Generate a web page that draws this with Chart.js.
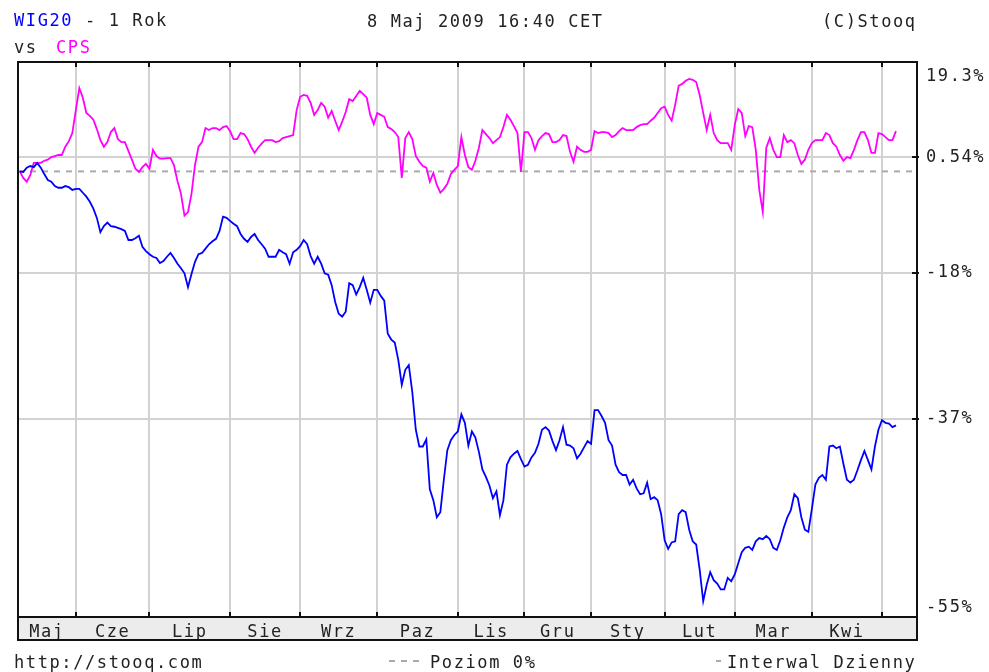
<!DOCTYPE html>
<html>
<head>
<meta charset="utf-8">
<script src="https://cdn.jsdelivr.net/npm/chart.js@4.4.1/dist/chart.umd.min.js"></script>
<style>
  body { margin: 0; background: #fff; }
  #wrap { position: relative; width: 989px; height: 672px; overflow: hidden; }
  #box { position: absolute; left: 0; top: 0; width: 989px; height: 672px; }
  .t {
    position: absolute;
    font: 17px 'DejaVu Sans Mono', monospace;
    line-height: 17px;
    letter-spacing: 1.6px;
    color: #222;
    white-space: pre;
  }
  .dash { position: absolute; height: 2px; background: repeating-linear-gradient(90deg, #aaa 0 6px, transparent 6px 12px); }
</style>
</head>
<body>
<div id="wrap">
  <div id="box"><canvas id="chart"></canvas></div>
  <div class="t" style="left:14px; top:12px"><span style="color:#0000ff">WIG20</span> - 1 Rok</div>
  <div class="t" style="left:14px; top:39px">vs</div>
  <div class="t" style="left:56px; top:39px; color:#ff00ff">CPS</div>
  <div class="t" style="left:367px; top:13px">8 Maj 2009 16:40 CET</div>
  <div class="t" style="left:822px; top:13px">(C)Stooq</div>
  <div class="t" style="left:14px; top:654px">http://stooq.com</div>
  <div class="dash" style="left:389px; top:660px; width:36px"></div>
  <div class="t" style="left:430px; top:654px">Poziom 0%</div>
  <div class="dash" style="left:716px; top:660px; width:5px"></div>
  <div class="t" style="left:727px; top:654px">Interwal Dzienny</div>
</div>
<script>
// ---- data: daily % change since 8 May 2008, one value per trading day ----
const WIG20 = [
  0, -0.1, 0.7, 1.0, 0.8, 1.6, 0.7, -0.5, -1.6, -1.9,
  -2.7, -3.0, -3.0, -2.7, -2.9, -3.4, -3.2, -3.2, -3.9, -4.6,
  -5.5, -6.7, -8.3, -10.7, -9.7, -9.1, -9.7, -9.8, -10.0, -10.2,
  -10.5, -12.0, -12.0, -11.7, -11.3, -13.1, -13.8, -14.3, -14.7, -14.9,
  -15.7, -15.4, -14.7, -14.1, -14.9, -15.8, -16.5, -17.3, -19.4, -17.4,
  -15.5, -14.3, -14.1, -13.4, -12.7, -12.2, -11.8, -10.5, -8.1, -8.3,
  -8.8, -9.3, -9.7, -11.0, -11.8, -12.3, -11.5, -11.0, -12.0, -12.7,
  -13.4, -14.7, -14.7, -14.7, -13.6, -14.0, -14.3, -15.8, -14.0, -13.6,
  -13.0, -12.0, -12.7, -14.6, -15.8, -14.7, -15.8, -17.3, -17.5, -19.1,
  -21.6, -23.3, -23.7, -23.0, -18.8, -19.1, -20.5, -19.4, -18.0, -19.8,
  -21.7, -19.8, -19.8, -20.7, -21.4, -26.1, -26.9, -27.3, -29.6, -32.8,
  -30.9, -30.3, -33.7, -38.2, -40.1, -40.1, -39.3, -44.7, -45.8, -47.5,
  -47.0, -43.7, -40.5, -39.4, -38.8, -38.4, -36.4, -37.4, -40.0, -38.4,
  -39.1, -40.7, -42.6, -43.4, -44.3, -45.6, -44.9, -47.3, -45.8, -42.1,
  -41.3, -40.9, -40.6, -41.5, -42.3, -42.1, -41.3, -40.8, -39.8, -38.2,
  -37.9, -38.3, -39.5, -40.5, -39.4, -37.9, -39.9, -40.0, -40.3, -41.4,
  -40.9, -40.2, -39.5, -39.8, -35.9, -35.9, -36.6, -37.4, -39.4, -40.0,
  -42.1, -42.9, -43.2, -43.2, -44.2, -43.7, -44.6, -45.2, -45.1, -44.0,
  -45.7, -45.5, -45.8, -47.2, -49.7, -50.5, -49.9, -49.8, -47.2, -46.8,
  -47.0, -48.7, -49.8, -50.1, -52.4, -55.1, -53.7, -52.6, -53.3, -53.6,
  -54.1, -54.1, -53.1, -53.4, -52.8, -51.8, -50.8, -50.4, -50.3, -50.6,
  -49.8, -49.5, -49.6, -49.3, -49.6, -50.4, -50.6, -49.7, -48.5, -47.5,
  -46.8, -45.2, -45.6, -47.5, -48.7, -48.9, -46.7, -44.2, -43.5, -43.2,
  -43.7, -40.1, -40.0, -40.3, -40.1, -42.0, -43.7, -44.0, -43.7, -42.7,
  -41.6, -40.6, -41.6, -42.6, -40.1, -38.2, -37.1, -37.4, -37.5, -37.9,
  -37.7
];

const CPS = [
  0, -1.2, -1.9, -0.7, 1.6, 1.6, 1.6, 2.0, 2.2, 2.7,
  2.9, 3.1, 3.1, 4.7, 5.8, 7.4, 12.1, 16.8, 14.7, 11.5,
  10.9, 10.1, 8.2, 6.0, 4.7, 5.6, 7.6, 8.4, 6.2, 5.6,
  5.6, 3.9, 2.2, 0.5, -0.1, 0.8, 1.4, 0.5, 4.1, 2.9,
  2.4, 2.4, 2.5, 2.5, 1.2, -1.8, -4.1, -7.9, -7.3, -4.1,
  1.2, 4.7, 5.6, 8.4, 8.0, 8.4, 8.4, 8.0, 8.6, 8.8,
  7.8, 6.2, 6.2, 7.4, 7.2, 6.2, 4.7, 3.5, 4.5, 5.3,
  6.0, 6.0, 6.0, 5.6, 5.8, 6.4, 6.6, 6.8, 7.0, 12.1,
  14.9, 15.3, 15.1, 13.6, 11.1, 12.1, 13.6, 12.8, 10.5, 11.9,
  9.9, 8.0, 9.7, 11.7, 14.4, 14.0, 15.1, 16.2, 15.5, 14.7,
  11.1, 9.2, 11.5, 11.1, 10.7, 8.6, 8.2, 7.6, 6.6, -1.2,
  6.4, 7.6, 6.2, 2.9, 1.8, 1.0, 0.7, -1.9, -0.3, -2.5,
  -3.9, -3.2, -2.3, -0.5, 0.3, 1.0, 6.6, 3.1, 0.8, 0.3,
  2.0, 4.5, 8.0, 7.2, 6.4, 5.4, 6.0, 6.6, 8.6, 11.1,
  10.1, 8.8, 7.4, -0.1, 7.6, 7.6, 6.4, 4.1, 6.0, 6.8,
  7.4, 7.2, 5.6, 5.6, 6.0, 7.0, 6.8, 3.7, 1.8, 4.7,
  4.1, 3.7, 3.7, 4.1, 7.8, 7.4, 7.6, 7.6, 7.4, 6.6,
  7.0, 7.8, 8.4, 8.0, 8.0, 8.0, 8.6, 9.0, 9.2, 9.2,
  9.9, 10.5, 11.5, 12.5, 12.8, 11.1, 9.9, 13.2, 17.3, 17.7,
  18.4, 18.8, 18.6, 18.1, 15.3, 11.5, 8.0, 11.1, 7.4, 6.0,
  5.4, 5.4, 5.4, 4.1, 9.0, 12.3, 11.5, 6.8, 8.8, 8.6,
  4.1, -3.4, -7.3, 4.5, 6.4, 4.1, 2.7, 2.7, 7.0, 5.6,
  6.0, 5.4, 3.1, 1.4, 2.2, 4.1, 5.4, 6.0, 6.0, 6.0,
  7.4, 7.0, 5.4, 4.7, 3.1, 2.0, 2.7, 2.5, 4.1, 6.0,
  7.6, 7.6, 6.0, 3.5, 3.5, 7.4, 7.2, 6.6, 6.0, 6.0,
  7.8
];

// first trading day of each month (index into the series)
const MONTH_STARTS = [16, 37, 60, 80, 102, 125, 144, 163, 184, 204, 226, 246];
const MONTH_LABELS = ['Maj','Cze','Lip','Sie','Wrz','Paz','Lis','Gru','Sty','Lut','Mar','Kwi'];

const TICK_PCT    = [19.3, 2.7, -17.2, -36.9, -55.6];
const TICK_LABELS = ['19.3%', '0.54%', '-18%', '-37%', '-55%'];

const X_MIN = -0.5, X_MAX = 256;
const Y_MIN_PCT = -56.4, Y_MAX_PCT = 22.6;
const BAND_H = 23;

const ratio = p => 1 + p / 100;
const toPoints = arr => arr.map((p, i) => ({ x: i, y: ratio(p) }));

const bounds = [X_MIN, ...MONTH_STARTS];
const MONTH_MIDS = MONTH_LABELS.map((_, i) => (bounds[i] + bounds[i + 1]) / 2);

Chart.defaults.font.family = "'DejaVu Sans Mono', monospace";
Chart.defaults.font.size = 17;
Chart.defaults.color = '#222';

// band under the plot, black frame and the small tick marks on its edges
const framePlugin = {
  id: 'frame',
  beforeDraw(chart) {
    const { ctx, chartArea: a } = chart;
    ctx.letterSpacing = '1.6px';
    ctx.save();
    ctx.fillStyle = '#ececec';
    ctx.fillRect(a.left, a.bottom, a.right - a.left, BAND_H);
    ctx.restore();
  },
  afterDraw(chart) {
    const { ctx, chartArea: a, scales } = chart;
    ctx.save();
    ctx.strokeStyle = '#111';
    ctx.lineWidth = 2;
    ctx.strokeRect(a.left, a.top, a.right - a.left, a.bottom - a.top);
    ctx.strokeRect(a.left, a.bottom, a.right - a.left, BAND_H);
    ctx.beginPath();
    MONTH_STARTS.forEach(v => {
      const px = Math.round(scales.x.getPixelForValue(v));
      ctx.moveTo(px, a.top); ctx.lineTo(px, a.top + 5);
      ctx.moveTo(px, a.bottom - 5); ctx.lineTo(px, a.bottom);
    });
    TICK_PCT.slice(1, -1).forEach(p => {
      const py = Math.round(scales.y.getPixelForValue(ratio(p)));
      ctx.moveTo(a.right - 5, py); ctx.lineTo(a.right + 2, py);
    });
    ctx.stroke();
    ctx.restore();
  }
};

new Chart(document.getElementById('chart'), {
  type: 'line',
  data: {
    datasets: [
      {
        label: 'WIG20',
        data: toPoints(WIG20),
        borderColor: '#0000ff',
        borderWidth: 1.8,
        pointRadius: 0,
        tension: 0,
        order: 1,
      },
      {
        label: 'CPS',
        data: toPoints(CPS),
        borderColor: '#ff00ff',
        borderWidth: 1.8,
        pointRadius: 0,
        tension: 0,
        order: 2,
      },
      {
        label: 'Poziom 0%',
        data: [{ x: X_MIN, y: 1 }, { x: X_MAX, y: 1 }],
        borderColor: '#aaaaaa',
        borderWidth: 2,
        borderDash: [6, 6],
        pointRadius: 0,
        order: 3,
      },
    ],
  },
  options: {
    responsive: true,
    maintainAspectRatio: false,
    animation: false,
    layout: { padding: { left: 18, top: 62, right: 0, bottom: 32 } },
    plugins: { legend: { display: false }, tooltip: { enabled: false } },
    scales: {
      x: {
        type: 'linear',
        position: 'bottom',
        min: X_MIN,
        max: X_MAX,
        afterBuildTicks: s => { s.ticks = MONTH_STARTS.map(v => ({ value: v })); },
        afterFit: s => { s.height = 0; },
        ticks: { display: false },
        grid: { color: '#d2d2d2', lineWidth: 2, drawTicks: false },
        border: { display: false },
      },
      xm: {
        type: 'linear',
        axis: 'x',
        position: 'bottom',
        min: X_MIN,
        max: X_MAX,
        afterBuildTicks: s => { s.ticks = MONTH_MIDS.map(v => ({ value: v })); },
        afterFit: s => { s.height = BAND_H; },
        ticks: {
          autoSkip: false,
          maxRotation: 0,
          padding: 5,
          callback: (v, i) => MONTH_LABELS[i],
        },
        grid: { display: false, drawTicks: false },
        border: { display: false },
      },
      y: {
        type: 'logarithmic',
        position: 'right',
        bounds: 'data',
        min: ratio(Y_MIN_PCT),
        max: ratio(Y_MAX_PCT),
        afterBuildTicks: s => { s.ticks = TICK_PCT.map(p => ({ value: ratio(p) })); },
        afterFit: s => { s.width = 72; },
        ticks: {
          padding: 9,
          autoSkip: false,
          callback: (v, i) => TICK_LABELS[i],
        },
        grid: {
          color: c => (c.index === 0 || c.index === TICK_PCT.length - 1) ? 'rgba(0,0,0,0)' : '#d2d2d2',
          lineWidth: 2,
          drawTicks: false,
        },
        border: { display: false },
      },
    },
  },
  plugins: [framePlugin],
});
</script>
</body>
</html>
